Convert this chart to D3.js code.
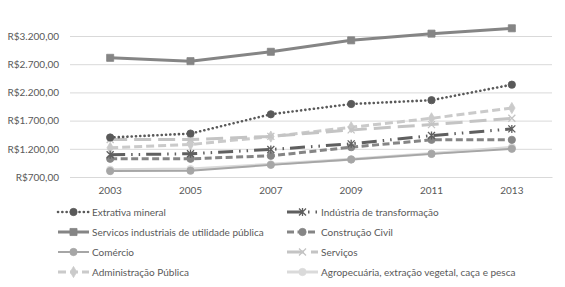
<!DOCTYPE html>
<html>
<head>
<meta charset="utf-8">
<script src="https://cdn.jsdelivr.net/npm/d3@7"></script>
<style>
  body { margin: 0; background: #fff; }
  svg text { font-family: Lato, "Open Sans", sans-serif; fill: #595959; }
</style>
</head>
<body>
<div id="chart"></div>
<script>
var years = ["2003", "2005", "2007", "2009", "2011", "2013"];
var yTicks = [700, 1200, 1700, 2200, 2700, 3200];

var extrativa = [1400, 1470, 1812, 1994, 2062, 2337];
var industria = [1094, 1112, 1188, 1288, 1435, 1553];
var servicosInd = [2813, 2754, 2920, 3123, 3242, 3337];
var construcao = [1023, 1023, 1076, 1229, 1359, 1359];
var comercio = [805, 812, 915, 1010, 1110, 1200];
var servicos = [1364, 1364, 1420, 1535, 1629, 1741];
var adminPublica = [1217, 1276, 1417, 1582, 1741, 1923];
var agro = [830, 840, 925, 1015, 1115, 1225];

var names = [
    "Extrativa mineral", "Indústria de transformação",
    "Servicos industriais de utilidade pública", "Construção Civil",
    "Comércio", "Serviços",
    "Administração Pública", "Agropecuária, extração vegetal, caça e pesca"
];

// line look per series (same order as names)
var styles = [
    { values: extrativa, color: "#595959", width: 2.6, dash: "0.1 4.2", cap: "round", marker: "circle" },
    { values: industria, color: "#5f5f5f", width: 3, dash: "15 6 1.5 6 1.5 6", cap: "butt", marker: "asterisk" },
    { values: servicosInd, color: "#858585", width: 3, dash: null, cap: "butt", marker: "square" },
    { values: construcao, color: "#858585", width: 3, dash: "7 3.5", cap: "butt", marker: "circle" },
    { values: comercio, color: "#a6a6a6", width: 2, dash: null, cap: "butt", marker: "circle" },
    { values: servicos, color: "#c4c4c4", width: 3, dash: "17 7", cap: "butt", marker: "x" },
    { values: adminPublica, color: "#cacaca", width: 3, dash: "8 4", cap: "butt", marker: "diamond" },
    { values: agro, color: "#dadada", width: 3, dash: null, cap: "butt", marker: "circle" }
];

var width = 565, height = 287;
var svg = d3.select("#chart").append("svg")
    .attr("width", width).attr("height", height);

var x = d3.scaleBand().domain(years).range([70, 552]);
var y = d3.scaleLinear().domain([700, 3700]).range([177, 7.8]);

var locale = d3.formatLocale({ decimal: ",", thousands: ".", grouping: [3], currency: ["R$", ""] });
var fmt = locale.format("$,.2f");

// gridlines + y labels
var yAxis = svg.append("g")
    .attr("transform", "translate(70,0)")
    .call(d3.axisLeft(y).tickValues(yTicks).tickFormat(fmt).tickSize(-482).tickPadding(11));
yAxis.select(".domain").remove();
yAxis.selectAll("line").attr("stroke", "#d9d9d9");
yAxis.selectAll("text").style("font-size", "10px");

// x labels
var xAxis = svg.append("g")
    .attr("transform", "translate(0,177)")
    .call(d3.axisBottom(x).tickSize(0).tickPadding(10));
xAxis.select(".domain").attr("stroke", "#d9d9d9");
xAxis.selectAll("text").style("font-size", "10px");

function markerPath(kind) {
    if (kind === "circle") return d3.symbol(d3.symbolCircle, 42)();
    if (kind === "square") return d3.symbol(d3.symbolSquare, 50)();
    if (kind === "diamond") return d3.symbol(d3.symbolDiamond, 36)();
    if (kind === "x") return "M-3.5,-3.5L3.5,3.5M-3.5,3.5L3.5,-3.5";
    return "M-3.5,-3.5L3.5,3.5M-3.5,3.5L3.5,-3.5M0,-4L0,4";
}

function drawMarker(g, kind, color, cx, cy) {
    var open = kind === "x" || kind === "asterisk";
    g.append("path")
        .attr("d", markerPath(kind))
        .attr("transform", "translate(" + cx + "," + cy + ")")
        .attr("fill", open ? "none" : color)
        .attr("stroke", color)
        .attr("stroke-width", open ? 1.3 : 0.8);
}

var line = d3.line()
    .x(function(d, i) { return x(years[i]) + x.bandwidth() / 2; })
    .y(function(d) { return y(d); });

// draw in reverse so the first series ends on top
styles.slice().reverse().forEach(function(s) {
    var g = svg.append("g");
    g.append("path")
        .datum(s.values)
        .attr("d", line)
        .attr("fill", "none")
        .attr("stroke", s.color)
        .attr("stroke-width", s.width)
        .attr("stroke-linecap", s.cap)
        .attr("stroke-dasharray", s.dash);
    s.values.forEach(function(v, i) {
        drawMarker(g, s.marker, s.color, x(years[i]) + x.bandwidth() / 2, y(v));
    });
});

// legend, two columns
var legend = svg.append("g");
var rowY = [212, 232, 252, 272];
var colX = [58, 287];
names.forEach(function(name, i) {
    var s = styles[i];
    var lx = colX[i % 2], ly = rowY[Math.floor(i / 2)];
    var g = legend.append("g");
    g.append("line")
        .attr("x1", lx).attr("x2", lx + 31)
        .attr("y1", ly).attr("y2", ly)
        .attr("stroke", s.color)
        .attr("stroke-width", s.width)
        .attr("stroke-linecap", s.cap)
        .attr("stroke-dasharray", s.dash);
    drawMarker(g, s.marker, s.color, lx + 15.5, ly);
    g.append("text")
        .attr("x", lx + 34).attr("y", ly)
        .attr("dy", "0.35em")
        .style("font-size", "10px")
        .text(name);
});
</script>
</body>
</html>
